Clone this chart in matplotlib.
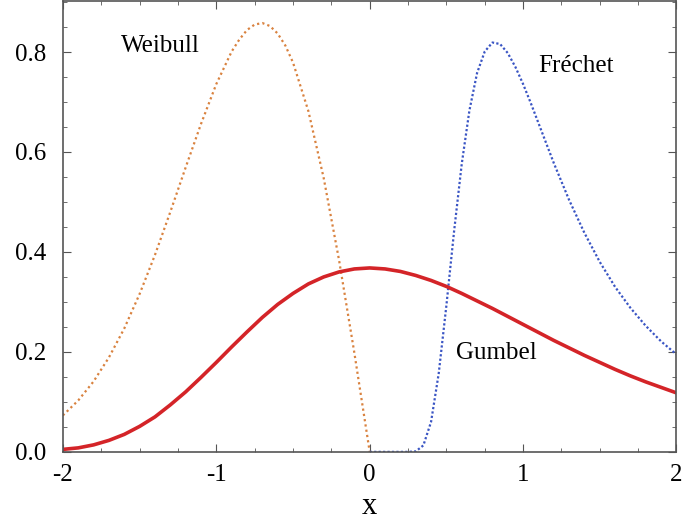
import numpy as np
import matplotlib.pyplot as plt
from matplotlib.ticker import MultipleLocator

# Gumbel density
gumbel_x = [-2.0, -1.9, -1.8, -1.7, -1.6, -1.5, -1.4, -1.3, -1.2, -1.1, -1.0,
            -0.9, -0.8, -0.7, -0.6, -0.5, -0.4, -0.3, -0.2, -0.1, 0.0,
            0.1, 0.2, 0.3, 0.4, 0.5, 0.6, 0.7, 0.8, 0.9, 1.0,
            1.1, 1.2, 1.3, 1.4, 1.5, 1.6, 1.7, 1.8, 1.9, 2.0]
gumbel_y = [0.005, 0.008, 0.014, 0.023, 0.035, 0.051, 0.070, 0.094, 0.120, 0.149, 0.179,
            0.210, 0.240, 0.269, 0.295, 0.317, 0.336, 0.350, 0.360, 0.366, 0.368,
            0.366, 0.361, 0.353, 0.343, 0.331, 0.317, 0.302, 0.287, 0.271, 0.255,
            0.239, 0.223, 0.208, 0.193, 0.179, 0.165, 0.152, 0.140, 0.129, 0.118]

# Weibull density (orange dotted), ends at x = 0
weibull_x = [-2.0, -1.9, -1.8, -1.7, -1.6, -1.5, -1.4, -1.3, -1.2, -1.1, -1.0,
             -0.9, -0.85, -0.8, -0.75, -0.7, -0.65, -0.6, -0.55, -0.5,
             -0.4, -0.3, -0.2, -0.1, 0.0]
weibull_y = [0.073, 0.103, 0.141, 0.189, 0.247, 0.316, 0.394, 0.480, 0.569, 0.656, 0.736,
             0.801, 0.825, 0.844, 0.855, 0.858, 0.852, 0.837, 0.813, 0.779,
             0.682, 0.548, 0.384, 0.198, 0.0]

# Frechet density (blue dotted), zero until about x = 0.3
frechet_x = [0.0, 0.1, 0.2, 0.25, 0.3, 0.35, 0.4, 0.45, 0.5, 0.55, 0.6, 0.65, 0.7,
             0.75, 0.8, 0.85, 0.9, 0.95, 1.0, 1.05, 1.1, 1.2, 1.3, 1.4, 1.5,
             1.6, 1.7, 1.8, 1.9, 2.0]
frechet_y = [0.0, 0.0, 0.0, 0.0, 0.001, 0.013, 0.060, 0.157, 0.293, 0.441, 0.576, 0.683, 0.758,
             0.801, 0.819, 0.816, 0.798, 0.770, 0.736, 0.698, 0.658, 0.578, 0.504, 0.438, 0.380,
             0.330, 0.288, 0.252, 0.221, 0.195]

plt.rcParams['font.family'] = ['Liberation Serif', 'DejaVu Serif']

fig = plt.figure(figsize=(6.84, 5.23), dpi=100)
ax = fig.add_axes([0.092, 0.136, 0.897, 0.862])

ax.plot(weibull_x, weibull_y, color='#d9823f', lw=1.6, linestyle=(0, (1, 1.4)))
ax.plot(frechet_x, frechet_y, color='#3a55c4', lw=1.6, linestyle=(0, (1, 1.0)))
ax.plot(gumbel_x, gumbel_y, color='#d42428', lw=2.6)

ax.text(-1.62, 0.812, 'Weibull', fontsize=18, va='center', ha='left')
ax.text(1.10, 0.772, 'Fréchet', fontsize=18, va='center', ha='left')
ax.text(0.565, 0.198, 'Gumbel', fontsize=18, va='center', ha='left')

ax.set_xlim(-2, 2)
ax.set_ylim(0, 0.902)
ax.xaxis.set_major_locator(MultipleLocator(1))
ax.xaxis.set_minor_locator(MultipleLocator(0.25))
ax.yaxis.set_major_locator(MultipleLocator(0.2))
ax.yaxis.set_minor_locator(MultipleLocator(0.05))
ax.xaxis.set_major_formatter(plt.FuncFormatter(lambda v, p: '%d' % v))
ax.yaxis.set_major_formatter(plt.FuncFormatter(lambda v, p: '%.1f' % v))
ax.tick_params(which='both', direction='in', top=True, right=True, color='#555555')
ax.tick_params(which='major', length=6, labelsize=18)
ax.tick_params(which='minor', length=3)
ax.tick_params(axis='x', which='major', pad=9)
ax.tick_params(axis='y', which='major', pad=12)
for s in ax.spines.values():
    s.set_color('#555555')
    s.set_linewidth(1.2)

ax.set_xlabel('x', fontsize=22, labelpad=4)

fig.savefig('out.png', dpi=100)
